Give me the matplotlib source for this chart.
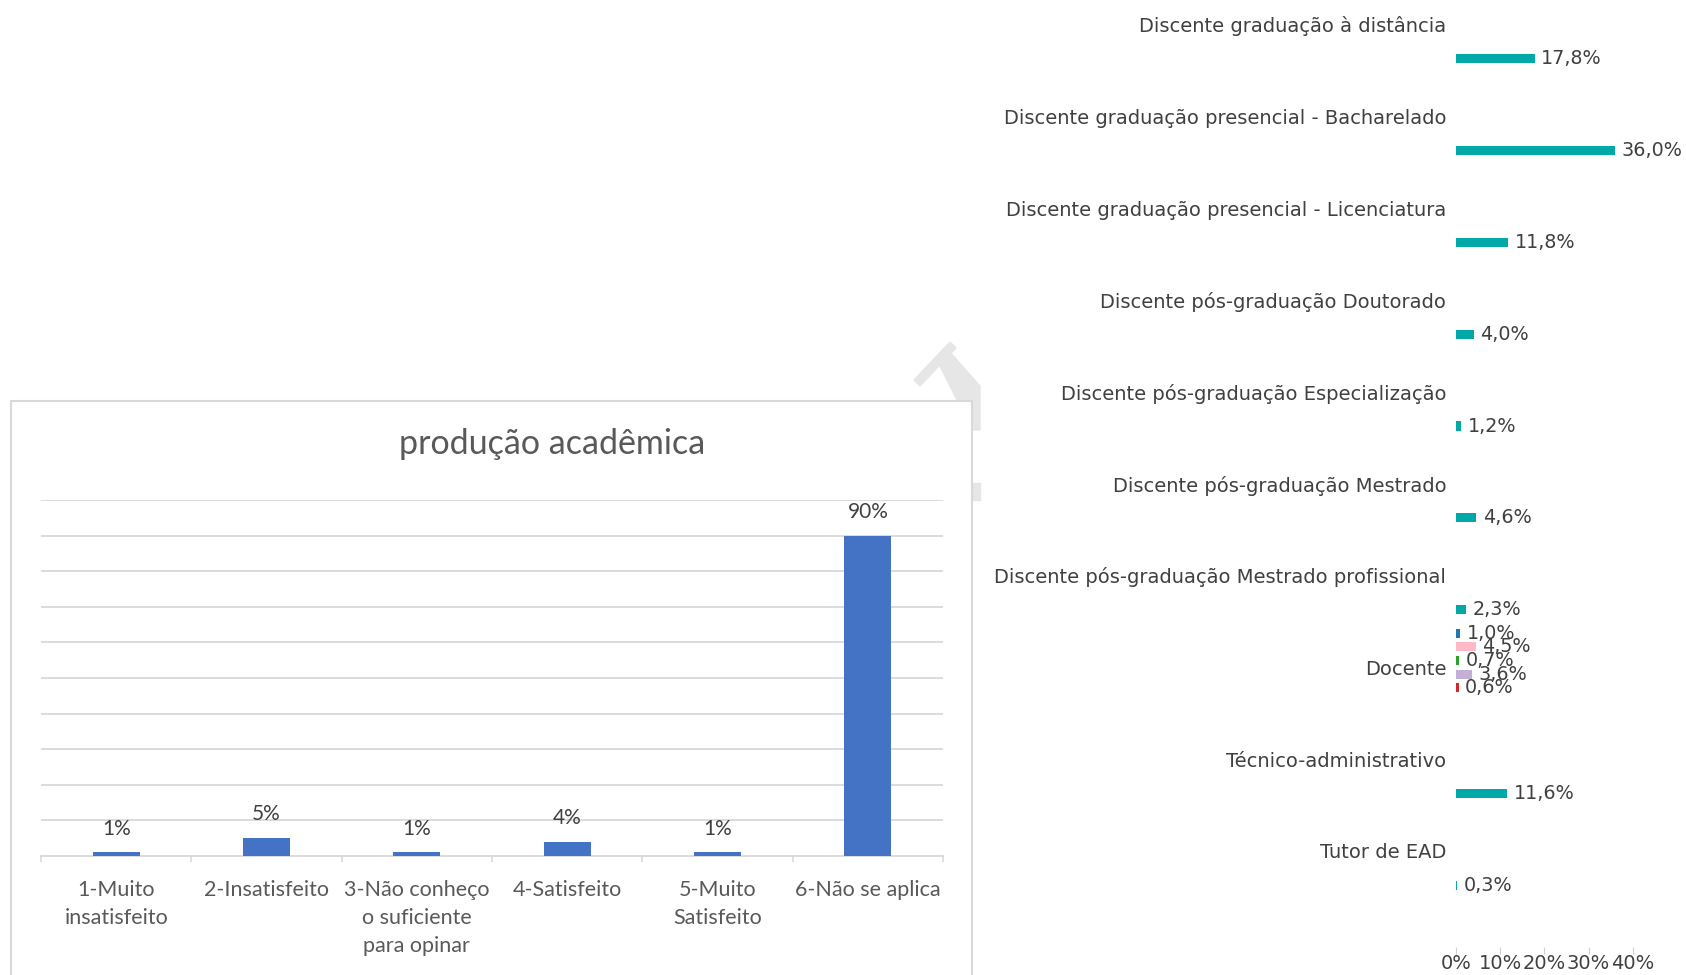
# producao academica + distribuicao por segmento

import matplotlib.pyplot as plt
from matplotlib.patches import Rectangle, Polygon
import numpy as np

# grafico da esquerda
opcoes = ["1-Muito\ninsatisfeito", "2-Insatisfeito", "3-Não conheço\no suficiente\npara opinar",
          "4-Satisfeito", "5-Muito\nSatisfeito", "6-Não se aplica"]
percentuais = [1, 5, 1, 4, 1, 90]

# grafico da direita
segmentos = ["Discente graduação à distância",
             "Discente graduação presencial - Bacharelado",
             "Discente graduação presencial - Licenciatura",
             "Discente pós-graduação Doutorado",
             "Discente pós-graduação Especialização",
             "Discente pós-graduação Mestrado",
             "Discente pós-graduação Mestrado profissional",
             "Docente",
             "Técnico-administrativo",
             "Tutor de EAD"]
serie_1 = [None, None, None, None, None, None, None, 1.0, None, None]
serie_2 = [None, None, None, None, None, None, None, 4.5, None, None]
serie_3 = [None, None, None, None, None, None, None, 0.7, None, None]
serie_4 = [None, None, None, None, None, None, None, 3.6, None, None]
serie_5 = [None, None, None, None, None, None, None, 0.6, None, None]
serie_6 = [17.8, 36.0, 11.8, 4.0, 1.2, 4.6, 2.3, None, 11.6, 0.3]
cores = ["#1f77b4", "#ffb8c6", "#2ca02c", "#c5b0d5", "#d62728", "#00a9a8"]
ticks_x = [0, 10, 20, 30, 40]

W, H = 1686, 975
fig = plt.figure(figsize=(W / 100, H / 100), dpi=100)

def fx(px):
    return px / W

def fy(py):
    return 1 - py / H

# marca d'agua cinza atras da caixa
wm = "#e6e6e6"
fig.add_artist(Polygon([(fx(914), fy(380)), (fx(950), fy(342)), (fx(956), fy(348)), (fx(920), fy(386))],
                       closed=True, transform=fig.transFigure, color=wm, zorder=0))
fig.add_artist(Polygon([(fx(937), fy(360)), (fx(948), fy(350)), (fx(980), fy(386)), (fx(980), fy(430)),
                        (fx(972), fy(430))],
                       closed=True, transform=fig.transFigure, color=wm, zorder=0))
fig.add_artist(Rectangle((fx(972), fy(500)), fx(8), 17 / H, transform=fig.transFigure, color=wm, zorder=0))

# caixa do grafico da esquerda
fig.add_artist(Rectangle((fx(11), -0.02), fx(972 - 11), fy(401) + 0.02, transform=fig.transFigure,
                         facecolor="white", edgecolor="#d9d9d9", linewidth=1.5, zorder=1))

# ---- esquerda
ax = fig.add_axes([fx(41), fy(856), fx(943 - 41), (856 - 500) / H], zorder=2)
ax.patch.set_alpha(0)
x = np.arange(len(opcoes))
ax.bar(x, percentuais, width=0.313, color="#4472c4", zorder=3)
ax.set_ylim(0, 100)
ax.set_xlim(-0.5, len(opcoes) - 0.5)
ax.set_yticks(np.arange(10, 101, 10))
ax.yaxis.grid(True, color="#d9d9d9", linewidth=1.3)
ax.set_axisbelow(True)
ax.tick_params(axis="y", left=False, labelleft=False)
for s in ["top", "right", "left"]:
    ax.spines[s].set_visible(False)
ax.spines["bottom"].set_color("#d9d9d9")
ax.spines["bottom"].set_linewidth(1.3)
ax.set_xticks(x)
ax.set_xticklabels(opcoes, fontfamily="Lato", fontsize=15.5, color="#595959", linespacing=1.5)
ax.set_xticks(np.arange(-0.5, len(opcoes), 1), minor=True)
ax.tick_params(axis="x", which="major", length=0, pad=17)
ax.tick_params(axis="x", which="minor", length=4.5, color="#d9d9d9", width=1.2)
for xi, v in zip(x, percentuais):
    ax.annotate(f"{v}%", (xi, v), xytext=(0, 10), textcoords="offset points",
                ha="center", va="bottom", fontfamily="Lato", fontsize=15, color="#404040")
fig.text(fx(552), fy(444), "produção acadêmica", ha="center", va="center",
         fontfamily="Lato", fontsize=24.5, color="#595959", zorder=3)

# ---- direita
y0, passo = 24.5, 91.83
y_top, y_bot = -0.5, (947 - y0) / passo
topo_px = y0 + y_top * passo
ax2 = fig.add_axes([fx(1456), fy(947), fx(1632.7 - 1456), (947 - topo_px) / H], zorder=2)
ax2.patch.set_alpha(0)
series = [serie_1, serie_2, serie_3, serie_4, serie_5, serie_6]
n = len(series)
slot = 0.149
pos = np.arange(len(segmentos))
for k, (serie, cor) in enumerate(zip(series, cores)):
    off = (k - (n - 1) / 2) * slot
    for i, v in enumerate(serie):
        if v is None:
            continue
        ax2.barh(pos[i] + off, v, height=0.1, color=cor)
        ax2.annotate(f"{v:.1f}".replace(".", ",") + "%", (v, pos[i] + off), xytext=(4.5, 0),
                     textcoords="offset points", ha="left", va="center",
                     fontfamily="DejaVu Sans", fontsize=13.8, color="#404040", annotation_clip=False)
ax2.set_ylim(y_bot, y_top)
ax2.set_xlim(0, 40)
ax2.set_yticks(pos)
ax2.set_yticklabels(segmentos, fontfamily="DejaVu Sans", fontsize=14, color="#404040")
ax2.tick_params(axis="y", length=0, pad=7)
ax2.set_xticks(ticks_x)
ax2.set_xticklabels([f"{t}%" for t in ticks_x], fontfamily="DejaVu Sans", fontsize=14, color="#404040")
ax2.tick_params(axis="x", length=5, color="#d0d0d0", pad=0)
for s in ax2.spines.values():
    s.set_visible(False)

plt.savefig("out.png", dpi=100)
